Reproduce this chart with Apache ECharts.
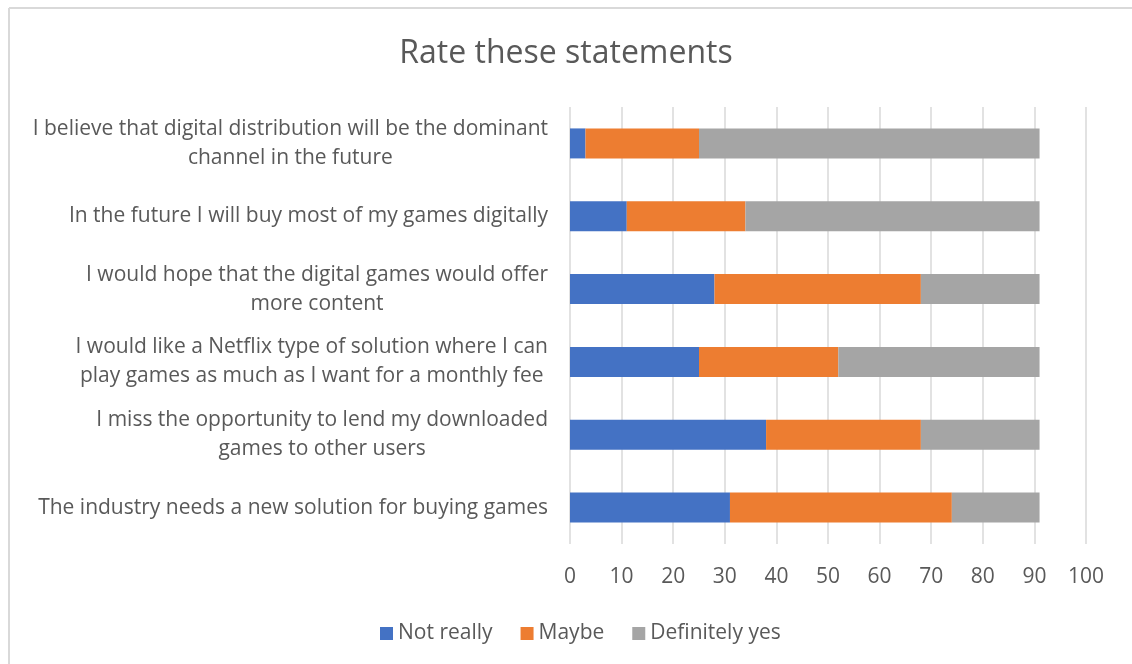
<!DOCTYPE html>
<html><head><meta charset="utf-8">
<script src="https://cdn.jsdelivr.net/npm/echarts@6/dist/echarts.min.js"></script>
<style>html,body{margin:0;padding:0;background:#fff}#c{width:1132px;height:664px}</style>
</head><body><div id="c"></div>
<script>
const categories = [
  "I believe that digital distribution will be the dominant\nchannel in the future",
  "In the future I will buy most of my games digitally",
  "I would hope that the digital games would offer\nmore content",
  "I would like a Netflix type of solution where I can\nplay games as much as I want for a monthly fee",
  "I miss the opportunity to lend my downloaded\ngames to other users",
  "The industry needs a new solution for buying games"
];
const seriesNames = ["Not really", "Maybe", "Definitely yes"];
const notReally = [3, 11, 28, 25, 38, 31];
const maybe = [22, 23, 40, 27, 30, 43];
const definitelyYes = [66, 57, 23, 39, 23, 17];
const xTicks = [0, 10, 20, 30, 40, 50, 60, 70, 80, 90, 100];

const FONT = "Open Sans";
const TXT = "#595959";
const colors = ["#4472C4", "#ED7D31", "#A5A5A5"];
const values = [notReally, maybe, definitelyYes];

const chart = echarts.init(document.getElementById('c'), null, {renderer: 'canvas'});
chart.setOption({
  animation: false,
  backgroundColor: '#fff',
  title: {
    text: 'Rate these statements',
    left: 'center',
    top: 33,
    textStyle: {fontFamily: FONT, fontSize: 32, fontWeight: 'normal', color: TXT}
  },
  graphic: [
    {type: 'line', shape: {x1: 9, y1: 8, x2: 9, y2: 664}, style: {stroke: '#d9d9d9', lineWidth: 2}},
    {type: 'line', shape: {x1: 9, y1: 8, x2: 1132, y2: 8}, style: {stroke: '#d9d9d9', lineWidth: 2}}
  ],
  legend: {
    top: 618,
    left: 375,
    icon: 'rect',
    itemWidth: 13,
    itemHeight: 13,
    itemGap: 28,
    data: seriesNames,
    textStyle: {fontFamily: FONT, fontSize: 21, color: TXT}
  },
  grid: {left: 570, right: 46, top: 107, bottom: 120},
  xAxis: {
    type: 'value',
    min: xTicks[0],
    max: xTicks[xTicks.length - 1],
    interval: xTicks[1] - xTicks[0],
    axisLine: {show: false},
    axisTick: {show: false},
    axisLabel: {fontFamily: FONT, fontSize: 21, color: TXT, margin: 23},
    splitLine: {show: true, lineStyle: {color: '#d9d9d9', width: 1.5}}
  },
  yAxis: {
    type: 'category',
    inverse: true,
    data: categories,
    axisLine: {show: false},
    axisTick: {show: false},
    axisLabel: {
      margin: 22,
      formatter: v => v.split('\n').map(l => '{c|' + l + '}').join('\n'),
      rich: {c: {align: 'center', fontFamily: FONT, fontSize: 21, color: TXT, lineHeight: 29}}
    }
  },
  series: seriesNames.map((n, i) => ({
    name: n,
    type: 'bar',
    stack: 'total',
    barWidth: 30,
    itemStyle: {color: colors[i]},
    data: values[i]
  }))
});
</script>
</body></html>
